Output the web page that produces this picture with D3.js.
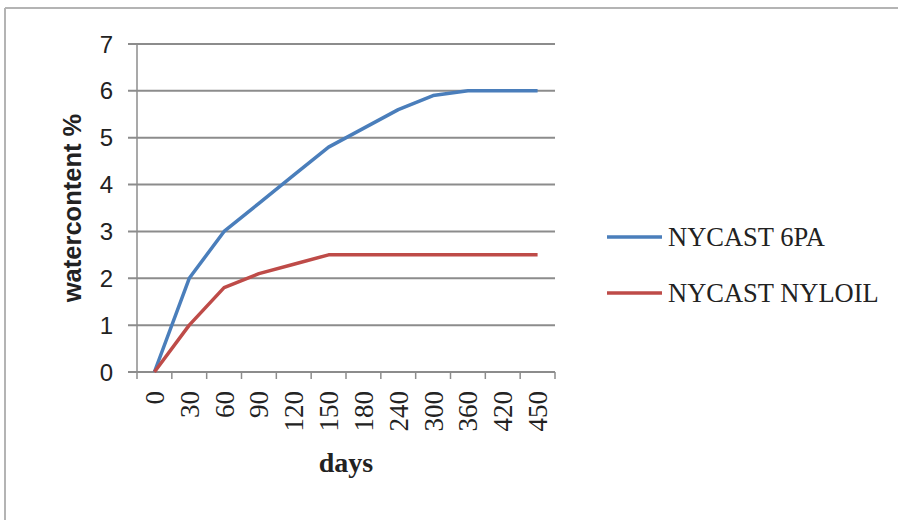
<!DOCTYPE html>
<html><head><meta charset="utf-8">
<script src="https://cdn.jsdelivr.net/npm/d3@7"></script>
<style>html,body{margin:0;padding:0;background:#fff;}svg{display:block;}</style>
</head><body>
<svg id="c" width="898" height="520"></svg>
<script>
const days = ["0","30","60","90","120","150","180","240","300","360","420","450"];
const seriesNames = ["NYCAST 6PA","NYCAST NYLOIL"];
const nycast6pa = [0,2,3,3.6,4.2,4.8,5.2,5.6,5.9,6,6,6];
const nycastNyloil = [0,1,1.8,2.1,2.3,2.5,2.5,2.5,2.5,2.5,2.5,2.5];
const yTicks = [0,1,2,3,4,5,6,7];
const colors = ["#4a7ebb","#be4b48"];

const svg = d3.select("#c");
// outer frame (only top and left edges visible)
svg.append("line").attr("x1",5).attr("x2",898).attr("y1",8).attr("y2",8)
  .attr("stroke","#b4b4b4").attr("stroke-width",2);
svg.append("line").attr("x1",5).attr("x2",5).attr("y1",8).attr("y2",520)
  .attr("stroke","#b4b4b4").attr("stroke-width",2);

const L=137,R=555,T=44,B=372;
const x = d3.scaleBand().domain(days).range([L,R]);
const y = d3.scaleLinear().domain([0,7]).range([B,T]);

// gridlines
svg.append("g").selectAll("line").data(yTicks).join("line")
  .attr("x1",128).attr("x2",R).attr("y1",d=>y(d)).attr("y2",d=>y(d))
  .attr("stroke","#8c8c8c").attr("stroke-width",2);

// y axis line
svg.append("line").attr("x1",L).attr("x2",L).attr("y1",T).attr("y2",B)
  .attr("stroke","#8c8c8c").attr("stroke-width",1.5);

// y tick labels
svg.append("g").selectAll("text").data(yTicks).join("text")
  .attr("x",113).attr("y",d=>y(d)).attr("dy","0.36em").attr("text-anchor","end")
  .attr("font-family","Liberation Sans, Arial, sans-serif").attr("font-size",24).attr("fill","#222")
  .text(d=>d);

// x axis ticks at band boundaries
const bounds = days.map(d=>x(d)).concat([R]);
svg.append("g").selectAll("line").data(bounds).join("line")
  .attr("x1",d=>d).attr("x2",d=>d).attr("y1",B).attr("y2",B+7)
  .attr("stroke","#8c8c8c").attr("stroke-width",1.5);

// x tick labels rotated
svg.append("g").selectAll("text").data(days).join("text")
  .attr("transform",d=>`translate(${x(d)+x.bandwidth()/2},391) rotate(-90)`)
  .attr("text-anchor","end").attr("dy","0.35em")
  .attr("font-family","Liberation Serif, Times New Roman, serif").attr("font-size",27).attr("fill","#222")
  .text(d=>d);

// lines
const line = d3.line().x((d,i)=>x(days[i])+x.bandwidth()/2).y(d=>y(d));
[nycast6pa,nycastNyloil].forEach((s,i)=>{
  svg.append("path").datum(s).attr("d",line).attr("fill","none")
    .attr("stroke",colors[i]).attr("stroke-width",3.5).attr("stroke-linejoin","round");
});

// axis titles
svg.append("text").attr("transform",`translate(81,${(T+B)/2}) rotate(-90)`)
  .attr("text-anchor","middle").attr("font-family","Liberation Sans, Arial, sans-serif")
  .attr("font-weight","bold").attr("font-size",25.5).attr("fill","#222").text("watercontent %");
svg.append("text").attr("x",(L+R)/2).attr("y",472).attr("text-anchor","middle")
  .attr("font-family","Liberation Serif, Times New Roman, serif").attr("font-weight","bold")
  .attr("font-size",28).attr("fill","#222").text("days");

// legend
const lg = svg.append("g");
seriesNames.forEach((n,i)=>{
  const yy = 237 + i*56;
  lg.append("line").attr("x1",607).attr("x2",662).attr("y1",yy).attr("y2",yy)
    .attr("stroke",colors[i]).attr("stroke-width",3.5);
  lg.append("text").attr("x",668).attr("y",yy).attr("dy","0.35em")
    .attr("font-family","Liberation Serif, Times New Roman, serif").attr("font-size",26.5).attr("fill","#222")
    .text(n);
});
</script>
</body></html>
